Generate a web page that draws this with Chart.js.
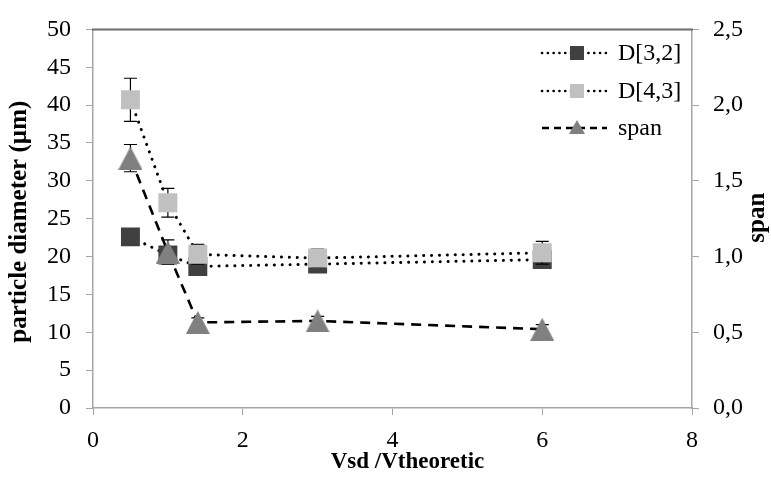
<!DOCTYPE html>
<html><head><meta charset="utf-8">
<script src="https://cdn.jsdelivr.net/npm/chart.js@4.4.1/dist/chart.umd.min.js"></script>
<style>html,body{margin:0;padding:0;background:#fff;overflow:hidden} #wrap{width:771px;height:477px;position:relative}</style>
</head><body><div id="wrap"><canvas id="c" width="771" height="477"></canvas></div>
<script>
// ---- data ----
const ratios = [0.5, 1.0, 1.4, 3.0, 6.0];
const d32 = [22.6, 20.2, 18.7, 19.0, 19.6];
const d32Err = [0.8, 0.6, 0.5, 0.6, 0.6];
const d43 = [40.7, 27.1, 20.3, 19.8, 20.5];
const d43Err = [2.85, 1.9, 1.3, 1.2, 1.5];
const spanVals = [1.65, 1.03, 0.565, 0.575, 0.52];
const spanErr = [0.09, 0.08, 0.03, 0.03, 0.03];
const seriesNames = ['D[3,2]', 'D[4,3]', 'span'];
const yRightTickLabels = ['0,0', '0,5', '1,0', '1,5', '2,0', '2,5'];
const xTitle = 'Vsd /Vtheoretic';
const yLeftTitle = 'particle diameter (µm)';
const yRightTitle = 'span';

// ---- styles ----
const SERIF = "'Liberation Serif', 'Times New Roman', serif";
const AXIS_GRAY = '#a6a6a6';
const TICK_FONT = {family: SERIF, size: 24};

function makeTriangle(w, h, color) {
  const c = document.createElement('canvas');
  c.width = w; c.height = h;
  const g = c.getContext('2d');
  g.fillStyle = color;
  g.beginPath();
  g.moveTo(w / 2, 0);
  g.lineTo(w, h);
  g.lineTo(0, h);
  g.closePath();
  g.fill();
  return c;
}
const triImg = makeTriangle(24, 23, '#808080');

const toPts = (ys) => ratios.map((x, i) => ({x: x, y: ys[i]}));

const errorBars = {
  id: 'errorBars',
  beforeDatasetDraw(chart, args) {
    const ds = chart.data.datasets[args.index];
    if (!ds.errors) return;
    const xs = chart.scales.x, ys = chart.scales[ds.yAxisID];
    const ctx = chart.ctx;
    ctx.save();
    ctx.strokeStyle = '#000';
    ctx.lineWidth = 1.2;
    ctx.setLineDash([]);
    ds.data.forEach((p, i) => {
      const e = ds.errors[i];
      const px = xs.getPixelForValue(p.x);
      const yt = ys.getPixelForValue(p.y + e);
      const yb = ys.getPixelForValue(p.y - e);
      ctx.beginPath();
      ctx.moveTo(px, yt); ctx.lineTo(px, yb);
      ctx.moveTo(px - 6.5, yt); ctx.lineTo(px + 6.5, yt);
      ctx.moveTo(px - 6.5, yb); ctx.lineTo(px + 6.5, yb);
      ctx.stroke();
    });
    ctx.restore();
  }
};

const frameAndText = {
  id: 'frameAndText',
  afterDraw(chart) {
    const ctx = chart.ctx, a = chart.chartArea;
    ctx.save();
    // top frame line
    ctx.strokeStyle = '#6b6b6b';
    ctx.lineWidth = 2;
    ctx.beginPath();
    ctx.moveTo(a.left - 1, a.top); ctx.lineTo(a.right + 1, a.top);
    ctx.stroke();

    // axis titles
    ctx.fillStyle = '#000';
    ctx.textAlign = 'center';
    ctx.textBaseline = 'middle';
    ctx.font = 'bold 23px ' + SERIF;
    ctx.fillText(xTitle, (a.left + a.right) / 2 + 15, 462);
    ctx.font = 'bold 25px ' + SERIF;
    ctx.save();
    ctx.translate(20, (a.top + a.bottom) / 2 + 3);
    ctx.rotate(-Math.PI / 2);
    ctx.fillText(yLeftTitle, 0, 0);
    ctx.restore();
    ctx.save();
    ctx.translate(758, (a.top + a.bottom) / 2 - 1);
    ctx.rotate(-Math.PI / 2);
    ctx.fillText(yRightTitle, 0, 0);
    ctx.restore();

    // legend
    const rows = [53, 91, 128];
    const lx0 = 542, lx1 = 607, mx = 577, tx = 618;
    ctx.font = '24px ' + SERIF;
    ctx.textAlign = 'left';
    rows.forEach((ry, i) => {
      ctx.strokeStyle = '#000';
      if (i < 2) {
        ctx.lineWidth = 2.6; ctx.lineCap = 'round'; ctx.setLineDash([0.1, 5.7]);
      } else {
        ctx.lineWidth = 2.6; ctx.lineCap = 'butt'; ctx.setLineDash([7, 5]);
      }
      ctx.beginPath(); ctx.moveTo(lx0, ry); ctx.lineTo(lx1, ry); ctx.stroke();
      ctx.setLineDash([]);
      if (i < 2) {
        ctx.fillStyle = i === 0 ? '#404040' : '#c0c0c0';
        ctx.fillRect(mx - 7, ry - 7, 14, 14);
      } else {
        ctx.fillStyle = '#808080';
        ctx.beginPath();
        ctx.moveTo(mx, ry - 8); ctx.lineTo(mx + 8, ry + 6); ctx.lineTo(mx - 8, ry + 6);
        ctx.closePath(); ctx.fill();
      }
      ctx.fillStyle = '#000';
      ctx.fillText(seriesNames[i], tx, ry + 1);
    });
    ctx.restore();
  }
};

new Chart(document.getElementById('c'), {
  type: 'scatter',
  data: {
    datasets: [
      {
        label: seriesNames[0], data: toPts(d32), errors: d32Err, yAxisID: 'y', order: 3,
        showLine: true, borderColor: '#000', borderWidth: 3, borderDash: [0.1, 7.8], borderCapStyle: 'round',
        pointStyle: 'rect', pointRadius: 13.4, pointBackgroundColor: '#404040', pointBorderWidth: 0,
        pointHoverRadius: 13.4
      },
      {
        label: seriesNames[1], data: toPts(d43), errors: d43Err, yAxisID: 'y', order: 2,
        showLine: true, borderColor: '#000', borderWidth: 3, borderDash: [0.1, 7.8], borderCapStyle: 'round',
        pointStyle: 'rect', pointRadius: 13.4, pointBackgroundColor: '#c0c0c0', pointBorderWidth: 0,
        pointHoverRadius: 13.4
      },
      {
        label: seriesNames[2], data: toPts(spanVals), errors: spanErr, yAxisID: 'y2', order: 1,
        showLine: true, borderColor: '#000', borderWidth: 2.6, borderDash: [10, 7],
        pointStyle: triImg, pointRadius: 12, pointBackgroundColor: '#808080', pointBorderWidth: 0
      }
    ]
  },
  options: {
    responsive: false,
    animation: false,
    devicePixelRatio: 1,
    events: [],
    layout: {padding: {top: 25, left: 0, right: 0, bottom: 0}},
    plugins: {legend: {display: false}, tooltip: {enabled: false}},
    scales: {
      x: {
        type: 'linear', position: 'bottom', min: 0, max: 8,
        afterFit: (s) => { s.height = 69; },
        ticks: {stepSize: 2, padding: 11, color: '#000', font: TICK_FONT, maxRotation: 0},
        grid: {drawOnChartArea: false, drawTicks: true, tickLength: 7, color: AXIS_GRAY},
        border: {color: AXIS_GRAY, width: 1.5}
      },
      y: {
        type: 'linear', position: 'left', min: 0, max: 50,
        afterFit: (s) => { s.width = 93; },
        ticks: {stepSize: 5, padding: 15, color: '#000', font: TICK_FONT},
        grid: {drawOnChartArea: false, drawTicks: true, tickLength: 7, color: AXIS_GRAY},
        border: {color: AXIS_GRAY, width: 1.5}
      },
      y2: {
        type: 'linear', position: 'right', min: 0, max: 2.5,
        afterFit: (s) => { s.width = 79; },
        ticks: {stepSize: 0.5, padding: 14, color: '#000', font: TICK_FONT,
          callback: (v) => yRightTickLabels[Math.round(v / 0.5)]},
        grid: {drawOnChartArea: false, drawTicks: true, tickLength: 7, color: AXIS_GRAY},
        border: {color: AXIS_GRAY, width: 1.5}
      }
    }
  },
  plugins: [errorBars, frameAndText]
});
</script>
</body></html>
